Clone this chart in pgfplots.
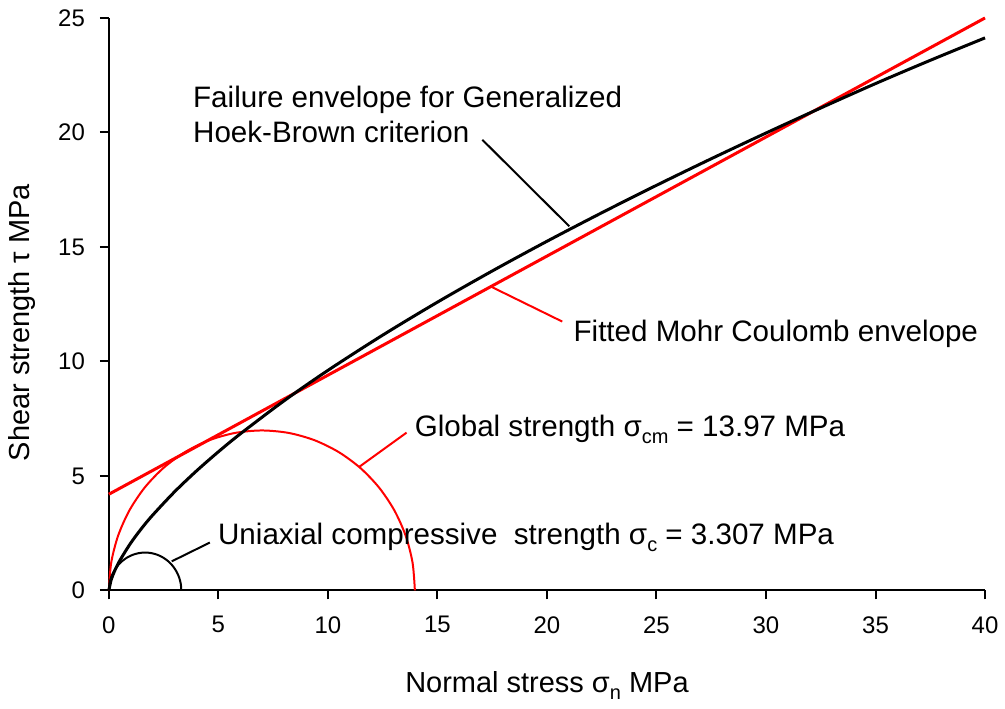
\documentclass[border=0pt]{standalone}
\usepackage{pgfplots}
\pgfplotsset{compat=1.18}
\usepackage{fontspec}
\setmainfont{Liberation Sans}
\definecolor{mcred}{RGB}{255,0,0}
\newcommand{\sub}[1]{\raisebox{-0.45ex}{\fontsize{10}{11}\selectfont #1}}
\begin{document}
\begin{tikzpicture}
\begin{axis}[
  scale only axis,
  width=438.5pt, height=286.5pt,
  xmin=0, xmax=40, ymin=0, ymax=25,
  axis x line*=bottom, axis y line*=left,
  axis line style={line width=1pt},
  xtick={0,5,...,40}, ytick={0,5,...,25},
  tick align=outside, major tick length=4.5pt,
  tick style={line width=1pt, black},
  ticklabel style={font=\fontsize{12}{14}\selectfont},
  xticklabel style={yshift=-5pt},
  yticklabel style={xshift=-4pt},
  /pgf/number format/assume math mode=true,
  xlabel={Normal stress σ\sub{n} MPa},
  ylabel={Shear strength τ MPa},
  label style={font=\fontsize{14.5}{17}\selectfont},
  xlabel style={at={(axis description cs:0.5,0)}, anchor=base, yshift=-51pt},
  ylabel style={at={(axis description cs:0,0.468)}, anchor=center, yshift=43.5pt},
  clip=false,
]
% Mohr circle for global strength
\addplot[mcred, line width=1pt, smooth] coordinates {
  (13.970,0) (13.864,1.213) (13.549,2.389) (13.034,3.493) (12.336,4.490)
  (11.475,5.351) (10.478,6.049) (9.374,6.564) (8.198,6.879) (6.985,6.985)
  (5.772,6.879) (4.596,6.564) (3.493,6.049) (2.495,5.351) (1.634,4.490)
  (0.936,3.493) (0.421,2.389) (0.106,1.213) (0,0)};
% fitted Mohr-Coulomb line
\addplot[mcred, line width=1.5pt] coordinates {(0,4.2) (40,25)};
% Hoek-Brown envelope
\addplot[black, line width=1.5pt, smooth] coordinates {
  (0,0) (0.1,0.447) (0.25,0.823) (0.5,1.306) (1,2.073) (1.5,2.716) (2,3.289)
  (3,4.309) (4,5.219) (5,6.055) (6,6.837) (8,8.282) (10,9.610) (12.5,11.148)
  (15,12.589) (17.5,13.949) (20,15.247) (22.5,16.491) (25,17.691)
  (27.5,18.851) (30,19.975) (32.5,21.068) (35,22.134) (37.5,23.150) (40,24.130)};
% Mohr circle for uniaxial compressive strength
\addplot[black, line width=1pt, smooth] coordinates {
  (3.307,0) (3.282,0.287) (3.207,0.566) (3.085,0.827) (2.920,1.063)
  (2.716,1.267) (2.480,1.432) (2.219,1.554) (1.941,1.628) (1.654,1.654)
  (1.366,1.628) (1.088,1.554) (0.827,1.432) (0.591,1.267) (0.387,1.063)
  (0.222,0.827) (0.100,0.566) (0.025,0.287) (0,0)};

% leader lines
\draw[black, line width=1pt] (axis cs:17.05,19.68) -- (axis cs:21.02,15.90);
\draw[mcred, line width=1pt] (axis cs:17.46,13.26) -- (axis cs:20.70,11.74);
\draw[mcred, line width=1pt] (axis cs:13.59,6.89) -- (axis cs:11.45,5.41);
\draw[black, line width=1pt] (axis cs:4.61,2.09) -- (axis cs:2.87,1.27);

% annotations
\begin{scope}[every node/.style={font=\fontsize{14.8}{17}\selectfont, inner sep=0pt, anchor=base west}]
\node at (axis cs:3.83,21.07) {Failure envelope for Generalized};
\node at (axis cs:3.83,19.55) {Hoek-Brown criterion};
\node at (axis cs:21.2,10.86) {Fitted Mohr Coulomb envelope};
\node at (axis cs:13.95,6.72) {Global strength σ\sub{cm} = 13.97 MPa};
\node at (axis cs:4.97,2.01) {Uniaxial compressive\ \ strength σ\sub{c} = 3.307 MPa};
\end{scope}
\end{axis}
\path ([xshift=-54.5pt,yshift=-59pt]current axis.south west) rectangle ([xshift=9.5pt,yshift=9pt]current axis.north east);
\end{tikzpicture}
\end{document}
